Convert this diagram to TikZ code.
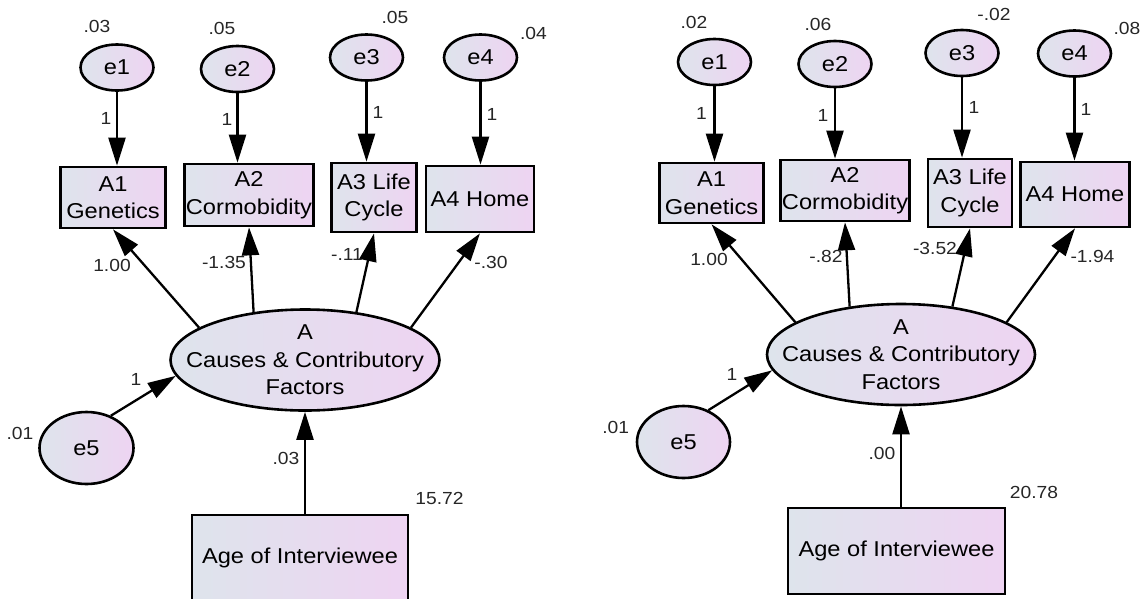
\documentclass[tikz,border=0pt]{standalone}
\usepackage{fontspec}
\setmainfont{Liberation Sans}[FakeStretch=1.1]
\usetikzlibrary{shapes.geometric,arrows.meta}
\definecolor{fillL}{RGB}{222,228,236}
\definecolor{fillR}{RGB}{238,212,242}
\newcommand\nodefont{\fontsize{21.5}{27.5}\selectfont}
\newcommand\estfont{\fontsize{17.5}{19}\selectfont}
\tikzset{
  latent/.style={ellipse, draw, line width=2.6pt, left color=fillL, right color=fillR,
    inner sep=0pt, align=center, font=\nodefont},
  errvar/.style={latent, minimum width=73pt, minimum height=46pt},
  observed/.style={rectangle, draw, line width=2.7pt, left color=fillL, right color=fillR,
    inner sep=0pt, align=center, font=\nodefont},
  reg/.style={line width=2.3pt, -{Triangle[length=28pt,width=17pt]}},
  est/.style={font=\estfont, inner sep=0pt, text=black!85},
}
\begin{document}
\begin{tikzpicture}[x=1pt,y=-1pt]
\useasboundingbox (0,0) rectangle (1140,598);
\clip (0,0) rectangle (1140,598);

% ---------------- left model ----------------
\node[errvar] (Le1) at (117,67.5) {e1};
\node[errvar] (Le2) at (237.5,69) {e2};
\node[errvar] (Le3) at (366.5,57.5) {e3};
\node[errvar] (Le4) at (480.5,57.5) {e4};
\node[observed, minimum width=105pt, minimum height=61pt] (LA1) at (113,197.5) {A1\\Genetics};
\node[observed, minimum width=129pt, minimum height=62pt] (LA2) at (249,195) {A2\\Cormobidity};
\node[observed, minimum width=84.5pt, minimum height=69pt] (LA3) at (374,197.5) {A3 Life\\Cycle};
\node[observed, minimum width=108pt, minimum height=66pt] (LA4) at (480,199) {A4 Home};
\node[latent, minimum width=269pt, minimum height=101pt,
  label={[align=center,font=\nodefont]center:A\\Causes \& Contributory\\Factors}] (LA) at (305,360) {};
\node[latent, minimum width=94pt, minimum height=72pt] (Le5) at (86.5,448) {e5};
\node[observed, minimum width=216pt, minimum height=86pt] (LAge) at (300,558) {Age of Interviewee};

\draw[reg] (Le1.south) -- (Le1.south |- LA1.north);
\draw[reg] (Le2.south) -- (Le2.south |- LA2.north);
\draw[reg] (Le3.south) -- (Le3.south |- LA3.north);
\draw[reg] (Le4.south) -- (Le4.south |- LA4.north);
\draw[reg] (LA.163) -- (LA1.south);
\draw[reg] (LA.137.5) -- (LA2.south);
\draw[reg] (LA.43) -- (LA3.south);
\draw[reg] (LA.17) -- (LA4.south);
\draw[reg] (Le5.53) -- (LA.187);
\draw[reg] (LAge.north -| LA.south) -- (LA.south);

\node[est] (Lv1) at (97,26) {.03};
\node[est] (Lv2) at (222,28) {.05};
\node[est] (Lv3) at (395,17) {.05};
\node[est] (Lv4) at (533.5,33) {.04};
\node[est] (Lf1) at (106,118) {1};
\node[est] (Lf2) at (227,119) {1};
\node[est] (Lf3) at (378,112) {1};
\node[est] (Lf4) at (492,114) {1};
\node[est] (Lw1) at (112,265) {1.00};
\node[est] (Lw2) at (224,262) {-1.35};
\node[est] (Lw3) at (347,254) {-.11};
\node[est] (Lw4) at (491,262) {-.30};
\node[est] (Lv5) at (20,433) {.01};
\node[est] (Lf5) at (136,379) {1};
\node[est] (Lb) at (286,458) {.03};
\node[est] (Lvage) at (439.5,498) {15.72};

% ---------------- right model ----------------
\node[errvar] (Re1) at (714.5,62) {e1};
\node[errvar] (Re2) at (835,64) {e2};
\node[errvar] (Re3) at (962,53) {e3};
\node[errvar] (Re4) at (1074.5,53.5) {e4};
\node[observed, minimum width=104pt, minimum height=60pt] (RA1) at (711.6,193) {A1\\Genetics};
\node[observed, minimum width=129pt, minimum height=61pt] (RA2) at (845,190.5) {A2\\Cormobidity};
\node[observed, minimum width=84pt, minimum height=68pt] (RA3) at (970,193) {A3 Life\\Cycle};
\node[observed, minimum width=109pt, minimum height=65pt] (RA4) at (1075,194.5) {A4 Home};
\node[latent, minimum width=268pt, minimum height=101pt,
  label={[align=center,font=\nodefont]center:A\\Causes \& Contributory\\Factors}] (RA) at (901,354.5) {};
\node[latent, minimum width=93pt, minimum height=72pt] (Re5) at (683.5,442) {e5};
\node[observed, minimum width=217pt, minimum height=86pt] (RAge) at (896.5,551) {Age of Interviewee};

\draw[reg] (Re1.south) -- (Re1.south |- RA1.north);
\draw[reg] (Re2.south) -- (Re2.south |- RA2.north);
\draw[reg] (Re3.south) -- (Re3.south |- RA3.north);
\draw[reg] (Re4.south) -- (Re4.south |- RA4.north);
\draw[reg] (RA.163) -- (RA1.south);
\draw[reg] (RA.137) -- (RA2.south);
\draw[reg] (RA.43) -- (RA3.south);
\draw[reg] (RA.17) -- (RA4.south);
\draw[reg] (Re5.52) -- (RA.187);
\draw[reg] (RAge.north -| RA.south) -- (RA.south);

\node[est] (Rv1) at (694,22) {.02};
\node[est] (Rv2) at (818,24) {.06};
\node[est] (Rv3) at (994,14) {-.02};
\node[est] (Rv4) at (1127,28) {.08};
\node[est] (Rf1) at (701.5,113) {1};
\node[est] (Rf2) at (823,115) {1};
\node[est] (Rf3) at (974,107) {1};
\node[est] (Rf4) at (1086,109) {1};
\node[est] (Rw1) at (709,259) {1.00};
\node[est] (Rw2) at (826,256) {-.82};
\node[est] (Rw3) at (935,248) {-3.52};
\node[est] (Rw4) at (1092.5,256) {-1.94};
\node[est] (Rv5) at (615.7,427) {.01};
\node[est] (Rf5) at (732,374) {1};
\node[est] (Rb) at (882,453) {.00};
\node[est] (Rvage) at (1034,492) {20.78};
\end{tikzpicture}
\end{document}
